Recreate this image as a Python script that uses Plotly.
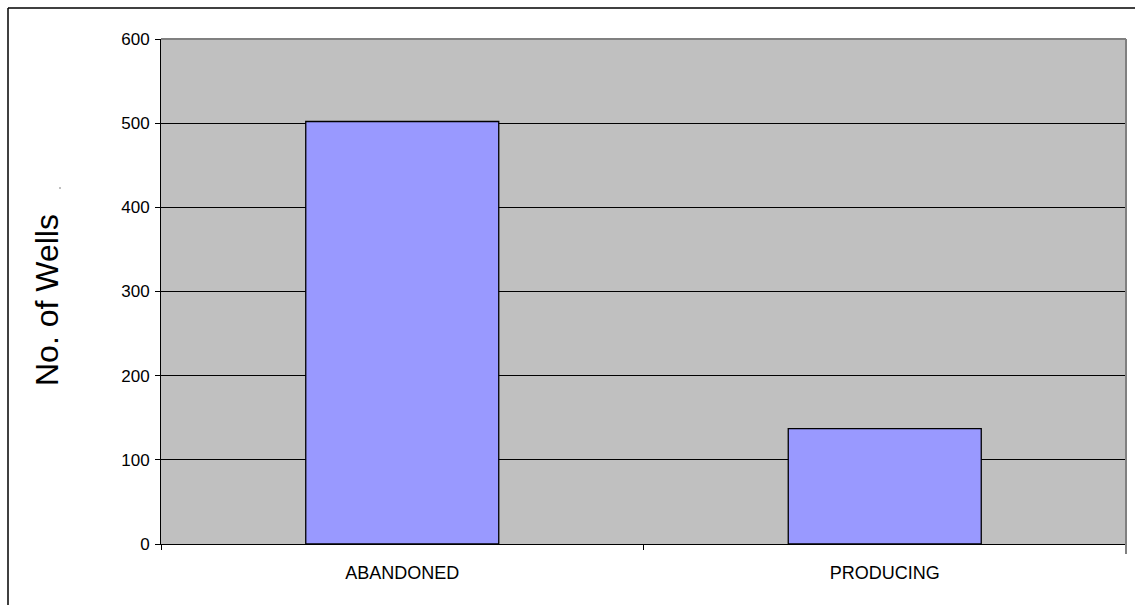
import plotly.graph_objects as go

categories = ["ABANDONED", "PRODUCING"]
wells = [502, 137]
y_ticks = [0, 100, 200, 300, 400, 500, 600]

W, H = 1135, 605
L, R, T, B = 161, 9, 39, 61
pw = W - L - R
ph = H - T - B

def px_x(x):
    return (x - L) / pw

def px_y(y):
    return 1 - (y - T) / ph

fig = go.Figure(go.Bar(
    x=categories, y=wells,
    marker=dict(color="#9999FF", line=dict(color="black", width=1.3)),
    width=0.4,
))

fig.update_layout(
    width=W, height=H,
    margin=dict(l=L, r=R, t=T, b=B),
    paper_bgcolor="white",
    plot_bgcolor="#C0C0C0",
    showlegend=False,
    font=dict(family="Liberation Sans, Arial, sans-serif", color="black"),
    xaxis=dict(
        showgrid=False, ticks="outside", tickson="boundaries", ticklen=5,
        tickcolor="black", showline=True, linecolor="black", linewidth=1,
        tickfont=dict(size=18), ticklabelstandoff=12, mirror=False,
    ),
    yaxis=dict(
        range=[0, 600], tickvals=y_ticks, showgrid=True, gridcolor="black",
        gridwidth=1, ticks="outside", ticklen=5, tickcolor="black",
        showline=True, linecolor="black", linewidth=1, zeroline=False,
        tickfont=dict(size=17), ticklabelstandoff=2,
    ),
    shapes=[
        dict(type="line", xref="paper", yref="paper", x0=0, x1=1, y0=1, y1=1,
             line=dict(color="#808080", width=2)),
        dict(type="line", xref="paper", yref="paper", x0=1, x1=1, y0=px_y(554), y1=1,
             line=dict(color="#808080", width=2)),
        dict(type="line", xref="paper", yref="paper", x0=px_x(8), x1=px_x(8), y0=px_y(610), y1=px_y(8),
             line=dict(color="black", width=1.5)),
        dict(type="line", xref="paper", yref="paper", x0=px_x(8), x1=px_x(1140), y0=px_y(8), y1=px_y(8),
             line=dict(color="black", width=1.5)),
        dict(type="line", xref="paper", yref="paper", x0=px_x(59.5), x1=px_x(60.5), y0=px_y(188), y1=px_y(188),
             line=dict(color="black", width=1)),
    ],
    annotations=[
        dict(text="No. of Wells", xref="paper", yref="paper", x=px_x(47), y=px_y(300),
             textangle=-90, showarrow=False, font=dict(size=32), xanchor="center", yanchor="middle"),
    ],
)

fig.write_html("out.html")
